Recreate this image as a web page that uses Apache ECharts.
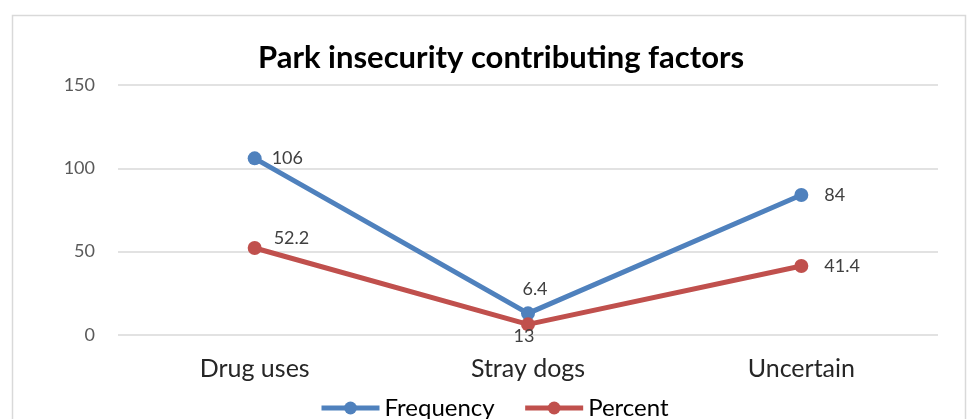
<!DOCTYPE html>
<html>
<head>
<meta charset="utf-8">
<script src="https://cdn.jsdelivr.net/npm/echarts@6/dist/echarts.min.js"></script>
<style>
  html, body { margin: 0; padding: 0; background: #fff; }
  #chart { width: 967px; height: 419px; }
</style>
</head>
<body>
<div id="chart"></div>
<script>
// Factors people named as making the park feel unsafe
const categories = ['Drug uses', 'Stray dogs', 'Uncertain'];
const frequency = [106, 13, 84];
const percent = [52.2, 6.4, 41.4];
const yTicks = { min: 0, max: 150, interval: 50 };

const FONT = 'Lato, "Open Sans", sans-serif';
const labelStyle = { fontFamily: FONT, fontSize: 18, color: '#404040' };

// per-point label placement for each series
const freqLabelPos = [
  { position: 'right', distance: 10 },
  { position: 'bottom', distance: 7, offset: [-4, 0] },
  { position: 'right', distance: 16 }
];
const pctLabelPos = [
  { position: 'right', distance: 12, offset: [0, -10] },
  { position: 'top', distance: 19, offset: [7, 0] },
  { position: 'right', distance: 16 }
];

function withLabels(values, placements) {
  return values.map((v, i) => ({
    value: v,
    label: Object.assign({ show: true }, labelStyle, placements[i])
  }));
}

const chart = echarts.init(document.getElementById('chart'), null, { renderer: 'canvas' });
chart.setOption({
  backgroundColor: '#fff',
  animation: false,
  graphic: [{
    type: 'rect',
    left: 10, top: 13,
    shape: { width: 953, height: 420 },
    style: { fill: 'none', stroke: '#d9d9d9', lineWidth: 1.5 },
    silent: true
  }],
  title: {
    text: 'Park insecurity contributing factors',
    left: 253,
    top: 37,
    textStyle: { fontFamily: FONT, fontSize: 31, fontWeight: 'bold', color: '#000' }
  },
  legend: {
    bottom: -6,
    left: 314,
    itemWidth: 58,
    itemHeight: 16,
    itemGap: 28,
    lineStyle: { width: 5 },
    textStyle: { fontFamily: FONT, fontSize: 24, color: '#000' },
    data: ['Frequency', 'Percent']
  },
  grid: { left: 118, right: 29, top: 85, bottom: 84, containLabel: false },
  xAxis: {
    type: 'category',
    data: categories,
    axisLine: { show: false },
    axisTick: { show: false },
    axisLabel: { fontFamily: FONT, fontSize: 25, color: '#262626', margin: 21 }
  },
  yAxis: {
    type: 'value',
    min: yTicks.min, max: yTicks.max, interval: yTicks.interval,
    axisLine: { show: false },
    axisTick: { show: false },
    axisLabel: { fontFamily: FONT, fontSize: 18, color: '#595959', margin: 23 },
    splitLine: { lineStyle: { color: '#d9d9d9', width: 1.5 } }
  },
  series: [
    {
      name: 'Frequency',
      type: 'line',
      data: withLabels(frequency, freqLabelPos),
      symbol: 'circle',
      symbolSize: 14,
      lineStyle: { color: '#4f81bd', width: 5 },
      itemStyle: { color: '#4f81bd' }
    },
    {
      name: 'Percent',
      type: 'line',
      data: withLabels(percent, pctLabelPos),
      symbol: 'circle',
      symbolSize: 14,
      lineStyle: { color: '#c0504d', width: 5 },
      itemStyle: { color: '#c0504d' }
    }
  ]
});
</script>
</body>
</html>
